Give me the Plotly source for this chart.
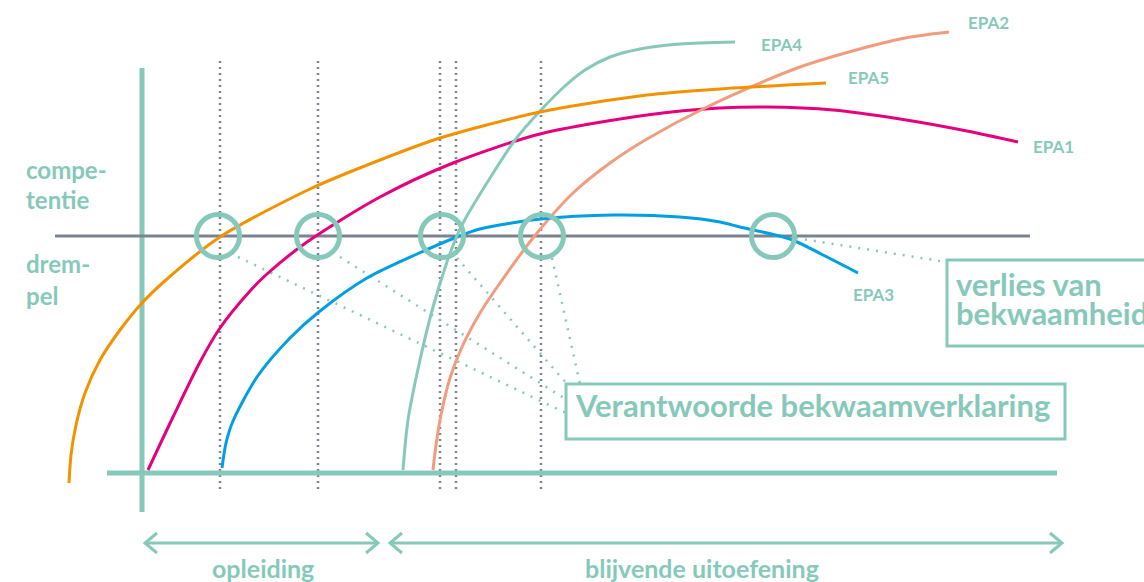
import plotly.graph_objects as go

# ---------------- data ----------------
epa1_x = [148, 173, 200, 220, 250, 267, 307, 380, 453, 540, 647, 720, 767, 833, 900, 967, 1018]
epa1_y = [470, 417, 362, 328, 291, 274, 242, 197, 163, 134, 115, 108, 107, 110, 119, 131, 142]

epa2_x = [433, 436, 441, 450, 462, 480, 500, 533, 573, 610, 647, 705, 800, 900, 949]
epa2_y = [470, 445, 415, 378, 347, 313, 283, 238, 193, 163, 139, 108, 67, 39, 32]

epa3_x = [222, 226, 233, 257, 290, 320, 367, 417, 457, 480, 541, 613, 680, 720, 740, 790, 823, 858]
epa3_y = [468, 443, 421, 377, 338, 311, 278, 254, 237, 229, 219, 215, 217, 222, 227, 239, 255, 273]

epa4_x = [403, 408, 420, 433, 447, 456, 463, 490, 515, 541, 565, 585, 610, 640, 680, 735]
epa4_y = [470, 420, 360, 307, 262, 238, 223, 178, 140, 110, 86, 70, 57, 49, 44, 42]

epa5_x = [69, 71, 76, 85, 100, 120, 142, 167, 220, 310, 380, 440, 540, 647, 720, 826]
epa5_y = [483, 455, 425, 393, 360, 330, 303, 279, 237, 189, 160, 138, 112, 95, 89, 83]

epa_labels = ["EPA1", "EPA2", "EPA3", "EPA4", "EPA5"]
epa_label_x = [1053, 988, 873, 781, 868]
epa_label_y = [146, 22, 294, 44, 77]

threshold_y = 236
threshold_x = [55, 1030]

axis_x = 142
axis_y_span = [68, 512]
base_y = 473
base_x_span = [107, 1057]

milestone_x = [220, 318, 440, 456, 541]
milestone_y_span = [61, 490]

crossing_x = [218, 318, 442, 542, 773]

callout_from_x = [238, 340, 457, 552, 796]
callout_from_y = [257, 257, 258, 258, 238]
callout_to_x = [566, 567, 567, 580, 940]
callout_to_y = [413, 400, 384, 384, 261]

phase_labels = ["opleiding", "blijvende uitoefening"]
phase_label_x = [263, 702]
phase_start = [145, 390]
phase_end = [378, 1062]
phase_y = 543

side_text = ["compe-", "tentie", "drem-", "pel"]
side_y = [169, 199, 263, 295]

# ---------------- style ----------------
TEAL = "#86c9ba"
GRAY = "#7b8390"
FONT = "Lato"
curve_colors = ["#e5007d", "#f29c7f", "#009fe3", "#86c9ba", "#f39200"]

fig = go.Figure()

# dotted milestone verticals
for mx in milestone_x:
    fig.add_trace(go.Scatter(x=[mx, mx], y=milestone_y_span, mode="lines",
                             line=dict(color=GRAY, width=2.5, dash="2px,4px"),
                             hoverinfo="skip"))

# axes
fig.add_trace(go.Scatter(x=[axis_x, axis_x], y=axis_y_span, mode="lines",
                         line=dict(color=TEAL, width=5), hoverinfo="skip"))
fig.add_trace(go.Scatter(x=base_x_span, y=[base_y, base_y], mode="lines",
                         line=dict(color=TEAL, width=5), hoverinfo="skip"))

# threshold
fig.add_trace(go.Scatter(x=threshold_x, y=[threshold_y, threshold_y], mode="lines",
                         line=dict(color=GRAY, width=3), hoverinfo="skip"))

# callout dotted lines
for fx, fy, tx, ty in zip(callout_from_x, callout_from_y, callout_to_x, callout_to_y):
    fig.add_trace(go.Scatter(x=[fx, tx], y=[fy, ty], mode="lines",
                             line=dict(color=TEAL, width=2.5, dash="2px,7px"),
                             hoverinfo="skip"))

# curves
curves = [(epa1_x, epa1_y), (epa2_x, epa2_y), (epa3_x, epa3_y), (epa4_x, epa4_y), (epa5_x, epa5_y)]
for (cx, cy), col in zip(curves, curve_colors):
    fig.add_trace(go.Scatter(x=cx, y=cy, mode="lines",
                             line=dict(color=col, width=3, shape="spline", smoothing=0.8),
                             hoverinfo="skip"))

# circles at crossings
R = 21.5
for cx in crossing_x:
    fig.add_shape(type="circle", xref="x", yref="y",
                  x0=cx - R, x1=cx + R, y0=threshold_y - R, y1=threshold_y + R,
                  line=dict(color=TEAL, width=5))

# phase arrows
AH_L, AH_H = 12, 10
for s, e in zip(phase_start, phase_end):
    fig.add_trace(go.Scatter(x=[s, e], y=[phase_y, phase_y], mode="lines",
                             line=dict(color=TEAL, width=3), hoverinfo="skip"))
    fig.add_trace(go.Scatter(x=[s + AH_L, s, s + AH_L], y=[phase_y - AH_H, phase_y, phase_y + AH_H],
                             mode="lines", line=dict(color=TEAL, width=3), hoverinfo="skip"))
    fig.add_trace(go.Scatter(x=[e - AH_L, e, e - AH_L], y=[phase_y - AH_H, phase_y, phase_y + AH_H],
                             mode="lines", line=dict(color=TEAL, width=3), hoverinfo="skip"))

for lab, lx in zip(phase_labels, phase_label_x):
    fig.add_annotation(x=lx, y=568, text="<b>%s</b>" % lab,
                       showarrow=False, font=dict(family=FONT, size=25, color=TEAL),
                       xanchor="center", yanchor="middle")

# EPA labels
for lab, lx, ly in zip(epa_labels, epa_label_x, epa_label_y):
    fig.add_annotation(x=lx, y=ly, text="<b>%s</b>" % lab, showarrow=False,
                       font=dict(family=FONT, size=17, color=TEAL),
                       xanchor="center", yanchor="middle")

# side labels
for t, yy in zip(side_text, side_y):
    fig.add_annotation(x=24, y=yy, text="<b>%s</b>" % t, showarrow=False,
                       font=dict(family=FONT, size=24, color=TEAL),
                       xanchor="left", yanchor="middle")

# boxes
fig.add_shape(type="rect", xref="x", yref="y", x0=566, x1=1065, y0=384, y1=439,
              line=dict(color=TEAL, width=3))
fig.add_annotation(x=573, y=405, text="<b>Verantwoorde bekwaamverklaring</b>", showarrow=False,
                   font=dict(family=FONT, size=31, color=TEAL), xanchor="left", yanchor="middle")

fig.add_shape(type="rect", xref="x", yref="y", x0=947, x1=1170, y0=260, y1=346,
              line=dict(color=TEAL, width=3))
fig.add_annotation(x=954, y=284, text="<b>verlies van</b>", showarrow=False,
                   font=dict(family=FONT, size=31, color=TEAL), xanchor="left", yanchor="middle")
fig.add_annotation(x=954, y=313, text="<b>bekwaamheid</b>", showarrow=False,
                   font=dict(family=FONT, size=31, color=TEAL), xanchor="left", yanchor="middle")

fig.update_layout(
    width=1144, height=582,
    margin=dict(l=0, r=0, t=0, b=0),
    paper_bgcolor="white", plot_bgcolor="white",
    showlegend=False,
    xaxis=dict(range=[0, 1144], visible=False, fixedrange=True),
    yaxis=dict(range=[582, 0], visible=False, fixedrange=True),
)

fig.write_html("out.html", post_script="document.body.style.margin='0px';",
               config={"displayModeBar": False})
